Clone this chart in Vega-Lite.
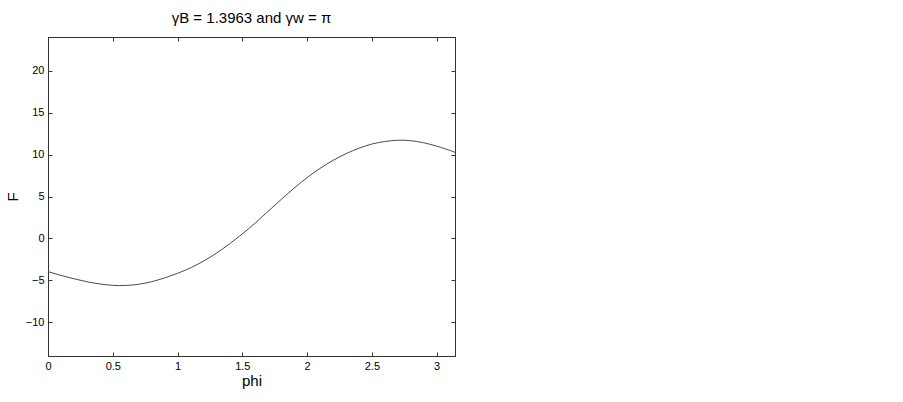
{
  "$schema": "https://vega.github.io/schema/vega-lite/v6.json",
  "autosize": {"type": "none"},
  "width": 407,
  "height": 319,
  "padding": {"left": 48, "top": 37, "right": 448, "bottom": 46},
  "background": "white",
  "title": {
    "text": "γB = 1.3963 and γw = π",
    "font": "Liberation Sans",
    "fontSize": 15,
    "fontWeight": "normal",
    "color": "black",
    "offset": 11
  },
  "config": {
    "view": {"stroke": "#333", "strokeWidth": 1},
    "axis": {
      "domainColor": "#333",
      "tickColor": "#333",
      "tickSize": -4,
      "labelFlush": false,
      "labelOverlap": false,
      "labelFont": "Liberation Sans",
      "labelFontSize": 11,
      "labelColor": "black",
      "titleFont": "Liberation Sans",
      "titleFontWeight": "normal",
      "titleColor": "black",
      "grid": false
    }
  },
  "data": {
    "values": [
      {"phi": 0, "F": -3.95},
      {"phi": 0.1, "F": -4.4},
      {"phi": 0.2, "F": -4.8},
      {"phi": 0.3, "F": -5.15},
      {"phi": 0.4, "F": -5.42},
      {"phi": 0.5, "F": -5.58},
      {"phi": 0.6, "F": -5.6},
      {"phi": 0.7, "F": -5.45},
      {"phi": 0.8, "F": -5.15},
      {"phi": 0.9, "F": -4.7},
      {"phi": 1.0, "F": -4.15},
      {"phi": 1.1, "F": -3.5},
      {"phi": 1.2, "F": -2.7},
      {"phi": 1.3, "F": -1.75},
      {"phi": 1.4, "F": -0.65},
      {"phi": 1.5, "F": 0.55},
      {"phi": 1.6, "F": 1.85},
      {"phi": 1.7, "F": 3.25},
      {"phi": 1.8, "F": 4.65},
      {"phi": 1.9, "F": 6.0},
      {"phi": 2.0, "F": 7.25},
      {"phi": 2.1, "F": 8.35},
      {"phi": 2.2, "F": 9.3},
      {"phi": 2.3, "F": 10.1},
      {"phi": 2.4, "F": 10.75},
      {"phi": 2.5, "F": 11.25},
      {"phi": 2.6, "F": 11.55},
      {"phi": 2.7, "F": 11.7},
      {"phi": 2.8, "F": 11.65},
      {"phi": 2.9, "F": 11.4},
      {"phi": 3.0, "F": 11.0},
      {"phi": 3.1, "F": 10.5},
      {"phi": 3.14159, "F": 10.25}
    ]
  },
  "layer": [
    {
      "mark": {"type": "line", "color": "#4a4a4a", "strokeWidth": 1, "interpolate": "natural"},
      "encoding": {
        "x": {
          "field": "phi", "type": "quantitative",
          "scale": {"domain": [0, 3.14159265], "nice": false, "zero": false},
          "axis": {"orient": "bottom", "values": [0, 0.5, 1, 1.5, 2, 2.5, 3], "labelExpr": "'' + datum.value", "labelPadding": 8, "title": "phi", "titleFontSize": 15, "titlePadding": 2}
        },
        "y": {
          "field": "F", "type": "quantitative",
          "scale": {"domain": [-14, 24], "nice": false, "zero": false},
          "axis": {"orient": "left", "values": [-10, -5, 0, 5, 10, 15, 20], "labelPadding": 8, "title": "F", "titleFontSize": 15, "titlePadding": 5}
        }
      }
    },
    {
      "mark": {"type": "line", "opacity": 0},
      "encoding": {
        "x": {
          "field": "phi", "type": "quantitative",
          "axis": {"orient": "top", "values": [0, 0.5, 1, 1.5, 2, 2.5, 3], "labels": false, "title": null}
        },
        "y": {
          "field": "F", "type": "quantitative",
          "axis": {"orient": "right", "values": [-10, -5, 0, 5, 10, 15, 20], "labels": false, "title": null}
        }
      }
    }
  ]
}
